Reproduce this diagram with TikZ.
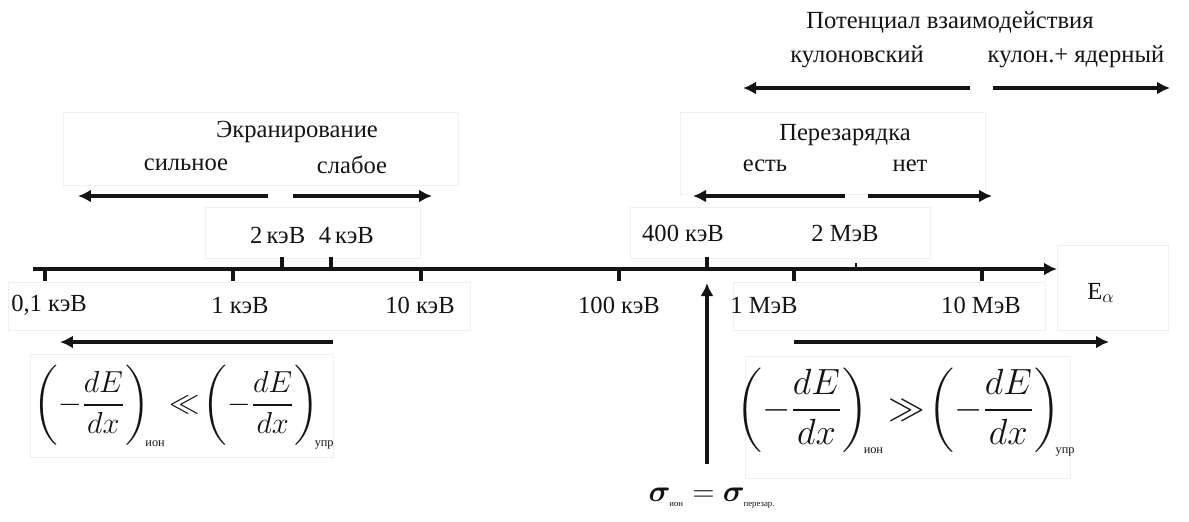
\documentclass[tikz,border=0pt]{standalone}
\usepackage{amsmath,amssymb,bm}
\usepackage{fontspec}
\setmainfont{Liberation Serif}
\usepackage{xcolor}
\definecolor{ink}{HTML}{141414}
\definecolor{faint}{HTML}{F0F0F0}
\usetikzlibrary{arrows.meta,positioning}

\begin{document}
\begin{tikzpicture}[
    x=0.02cm, y=-0.02cm,
    >=Latex,
    every node/.style={font=\fontsize{14}{16}\selectfont, text=ink, inner sep=1pt},
    frame_box/.style={draw=faint, line width=0.5pt},
    range_arrow/.style={-{Latex[length=2.6mm,width=2.6mm]}, line width=2.2pt, draw=ink},
    axis_line/.style={-{Latex[length=2.6mm,width=2.6mm]}, line width=2.2pt, draw=ink},
    tick_mark/.style={line width=2pt, draw=ink},
    big_formula/.style={font=\fontsize{19}{22}\selectfont}
]
  \useasboundingbox (0,0) rectangle (1189,521);

  % Faint frames round the label groups
  \draw[frame_box] (63,112) rectangle (458,185);
  \draw[frame_box] (205,207) rectangle (420,258);
  \draw[frame_box] (680,112) rectangle (985,194);
  \draw[frame_box] (630,207) rectangle (930,258);
  \draw[frame_box] (8,282) rectangle (470,330);
  \draw[frame_box] (733,282) rectangle (1045,330);
  \draw[frame_box] (1057,245) rectangle (1168,330);
  \draw[frame_box] (30,354) rectangle (333,457);
  \draw[frame_box] (745,356) rectangle (1070,478);

  % Interaction potential
  \node (pot_title) at (950,22) {Потенциал взаимодействия};
  \node (pot_coul) at (857,57) {кулоновский};
  \node (pot_nucl) at (1076,57) {кулон.+ ядерный};
  \coordinate (pot_mid_l) at (970,88);
  \coordinate (pot_mid_r) at (993,88);
  \coordinate (pot_left) at (743,88);
  \coordinate (pot_right) at (1170,88);
  \draw[range_arrow] (pot_mid_l) -- (pot_left);
  \draw[range_arrow] (pot_mid_r) -- (pot_right);

  % Charge exchange
  \node (cx_title) at (845,135) {Перезарядка};
  \node (cx_yes) at (765,166) {есть};
  \node (cx_no) at (910,166) {нет};
  \coordinate (cx_mid_l) at (845,196);
  \coordinate (cx_mid_r) at (868,196);
  \coordinate (cx_left) at (693,196);
  \coordinate (cx_right) at (992,196);
  \draw[range_arrow] (cx_mid_l) -- (cx_left);
  \draw[range_arrow] (cx_mid_r) -- (cx_right);
  \node (e_400k) at (683,233) {400 кэВ};
  \node (e_2M) at (845,233) {2 МэВ};

  % Screening
  \node (scr_title) at (297,132) {Экранирование};
  \node (scr_strong) at (186,165) {сильное};
  \node (scr_weak) at (352,165) {слабое};
  \coordinate (scr_mid_l) at (268,196);
  \coordinate (scr_mid_r) at (293,196);
  \coordinate (scr_left) at (78,196);
  \coordinate (scr_right) at (432,196);
  \draw[range_arrow] (scr_mid_l) -- (scr_left);
  \draw[range_arrow] (scr_mid_r) -- (scr_right);
  \node (e_2k4k) at (312,235) {2\,кэВ\;\;4\,кэВ};

  % Energy axis
  \coordinate (ax_start) at (33,269);
  \coordinate (ax_end) at (1057,269);
  \draw[axis_line] (ax_start) -- (ax_end);
  \node (e_alpha) at (1101,293) {E$_\alpha$};
  \foreach \x in {45,233,421,619,794,982}
    \draw[tick_mark] (\x,269) -- (\x,281);
  \foreach \x in {282,331,707}
    \draw[tick_mark] (\x,269) -- (\x,257);
  \draw[line width=0.8pt, draw=ink] (856,269) -- (856,263);

  \node (e_01k) at (49,305) {0,1 кэВ};
  \node (e_1k) at (240,305) {1 кэВ};
  \node (e_10k) at (420,305) {10 кэВ};
  \node (e_100k) at (619,305) {100 кэВ};
  \node (e_1M) at (764,305) {1 МэВ};
  \node (e_10M) at (981,305) {10 МэВ};

  % Stopping power regimes
  \coordinate (lo_start) at (333,342);
  \coordinate (lo_end) at (60,342);
  \draw[range_arrow] (lo_start) -- (lo_end);
  \node[big_formula] (lo_formula) at (184,407)
    {$\left(-\dfrac{dE}{dx}\right)_{\!\text{\scriptsize ион}}\!\ll\!\left(-\dfrac{dE}{dx}\right)_{\!\text{\scriptsize упр}}$};

  \coordinate (hi_start) at (794,342);
  \coordinate (hi_end) at (1109,342);
  \draw[range_arrow] (hi_start) -- (hi_end);
  \node[big_formula, font=\fontsize{20}{24}\selectfont] (hi_formula) at (906,412)
    {$\left(-\dfrac{dE}{dx}\right)_{\!\text{\scriptsize ион}}\!\gg\!\left(-\dfrac{dE}{dx}\right)_{\!\text{\scriptsize упр}}$};

  % Cross sections equal
  \node[font=\fontsize{17}{20}\selectfont] (sigma_eq) at (712,498)
    {$\bm{\sigma}_{\text{\tiny ион}}=\bm{\sigma}_{\text{\tiny перезар.}}$};
  \coordinate (sigma_up) at (707,464);
  \coordinate (ax_hit) at (707,283);
  \draw[range_arrow] (sigma_up) -- (ax_hit);

\end{tikzpicture}
\end{document}
